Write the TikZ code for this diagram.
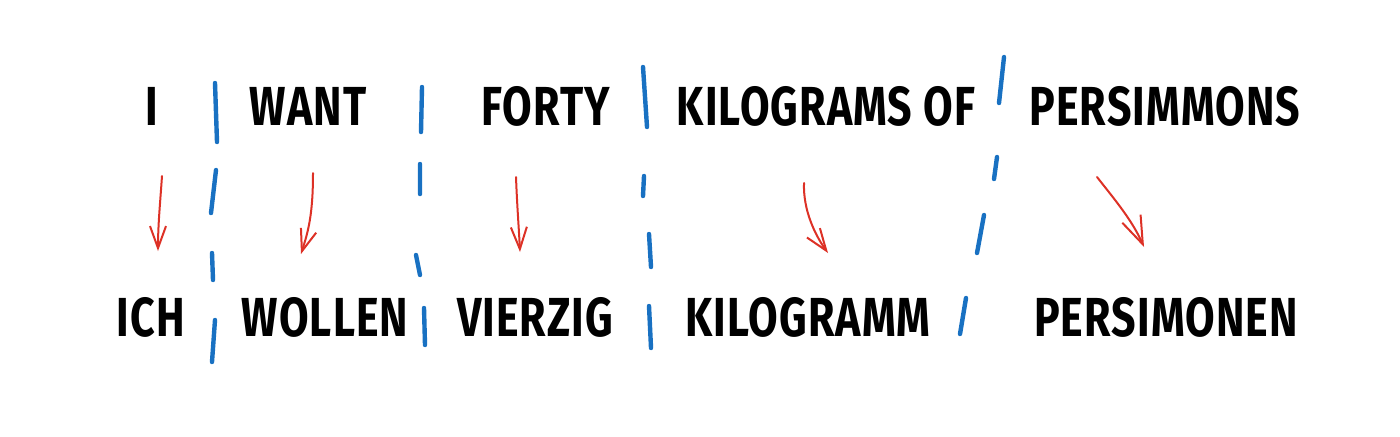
\documentclass[tikz,border=0pt]{standalone}
\usepackage{fontspec}
\newfontfamily\handfont{Fira Sans}[FakeStretch=0.78, LetterSpace=2]
\usetikzlibrary{arrows.meta}

\definecolor{cutblue}{HTML}{1971C2}
\definecolor{mapred}{HTML}{DD3126}

\begin{document}
\begin{tikzpicture}[x=0.5pt, y=-0.5pt,
  word/.style={anchor=base, inner sep=0pt, font=\handfont\bfseries\fontsize{27.5}{30}\selectfont},
  cut/.style={draw=cutblue, line width=2.2pt, line cap=round},
  maps/.style={draw=mapred, line width=1pt, line cap=round, -{Straight Barb[length=11pt, width=8pt]}}]
  \useasboundingbox (0,0) rectangle (1400,436);

  % english row
  \node[word] (i) at (152,125) {I};
  \node[word] (want) at (308,125) {WANT};
  \node[word] (forty) at (546,125) {FORTY};
  \node[word] (kgof) at (826,125) {KILOGRAMS OF};
  \node[word] (persimmons) at (1165,125) {PERSIMMONS};

  % german row
  \node[word] (ich) at (151,336) {ICH};
  \node[word] (wollen) at (325,336) {WOLLEN};
  \node[word] (vierzig) at (535,336) {VIERZIG};
  \node[word] (kilogramm) at (808,336) {KILOGRAMM};
  \node[word] (persimonen) at (1166,336) {PERSIMONEN};

  % dividers
  \draw[cut] (215,83) -- (217,142) (216,170) -- (211,213) (212,253) -- (213,280) (215,320) -- (212,362);
  \draw[cut] (422,87) -- (421,132) (420,164) -- (420,194) (416,255) -- (420,275) (424,308) -- (425,345);
  \draw[cut] (643,67) -- (647,127) (644,176) -- (643,196) (649,234) -- (651,267) (649,306) -- (651,348);
  \draw[cut] (1004,57) -- (999,103) (997,157) -- (994,179) (984,215) -- (977,253) (966,298) -- (960,334);

  % word mappings
  \coordinate (i-out) at (162,176);       \coordinate (ich-in) at (158,251);
  \coordinate (want-out) at (313,173);    \coordinate (wollen-in) at (301,254);
  \coordinate (forty-out) at (516,177);   \coordinate (vierzig-in) at (520,252);
  \coordinate (kgof-out) at (804,183);    \coordinate (kilogramm-in) at (828,253);
  \coordinate (pers-out) at (1097,177);   \coordinate (pers-in) at (1144,247);

  \draw[maps] (i-out) .. controls (160,205) and (158,225) .. (ich-in);
  \draw[maps] (want-out) .. controls (313,215) and (308,232) .. (wollen-in);
  \draw[maps] (forty-out) .. controls (517,205) and (519,230) .. (vierzig-in);
  \draw[maps] (kgof-out) .. controls (803,210) and (815,235) .. (kilogramm-in);
  \draw[maps, -{Straight Barb[length=14pt, width=10pt]}] (pers-out) .. controls (1115,200) and (1132,220) .. (pers-in);
\end{tikzpicture}
\end{document}
